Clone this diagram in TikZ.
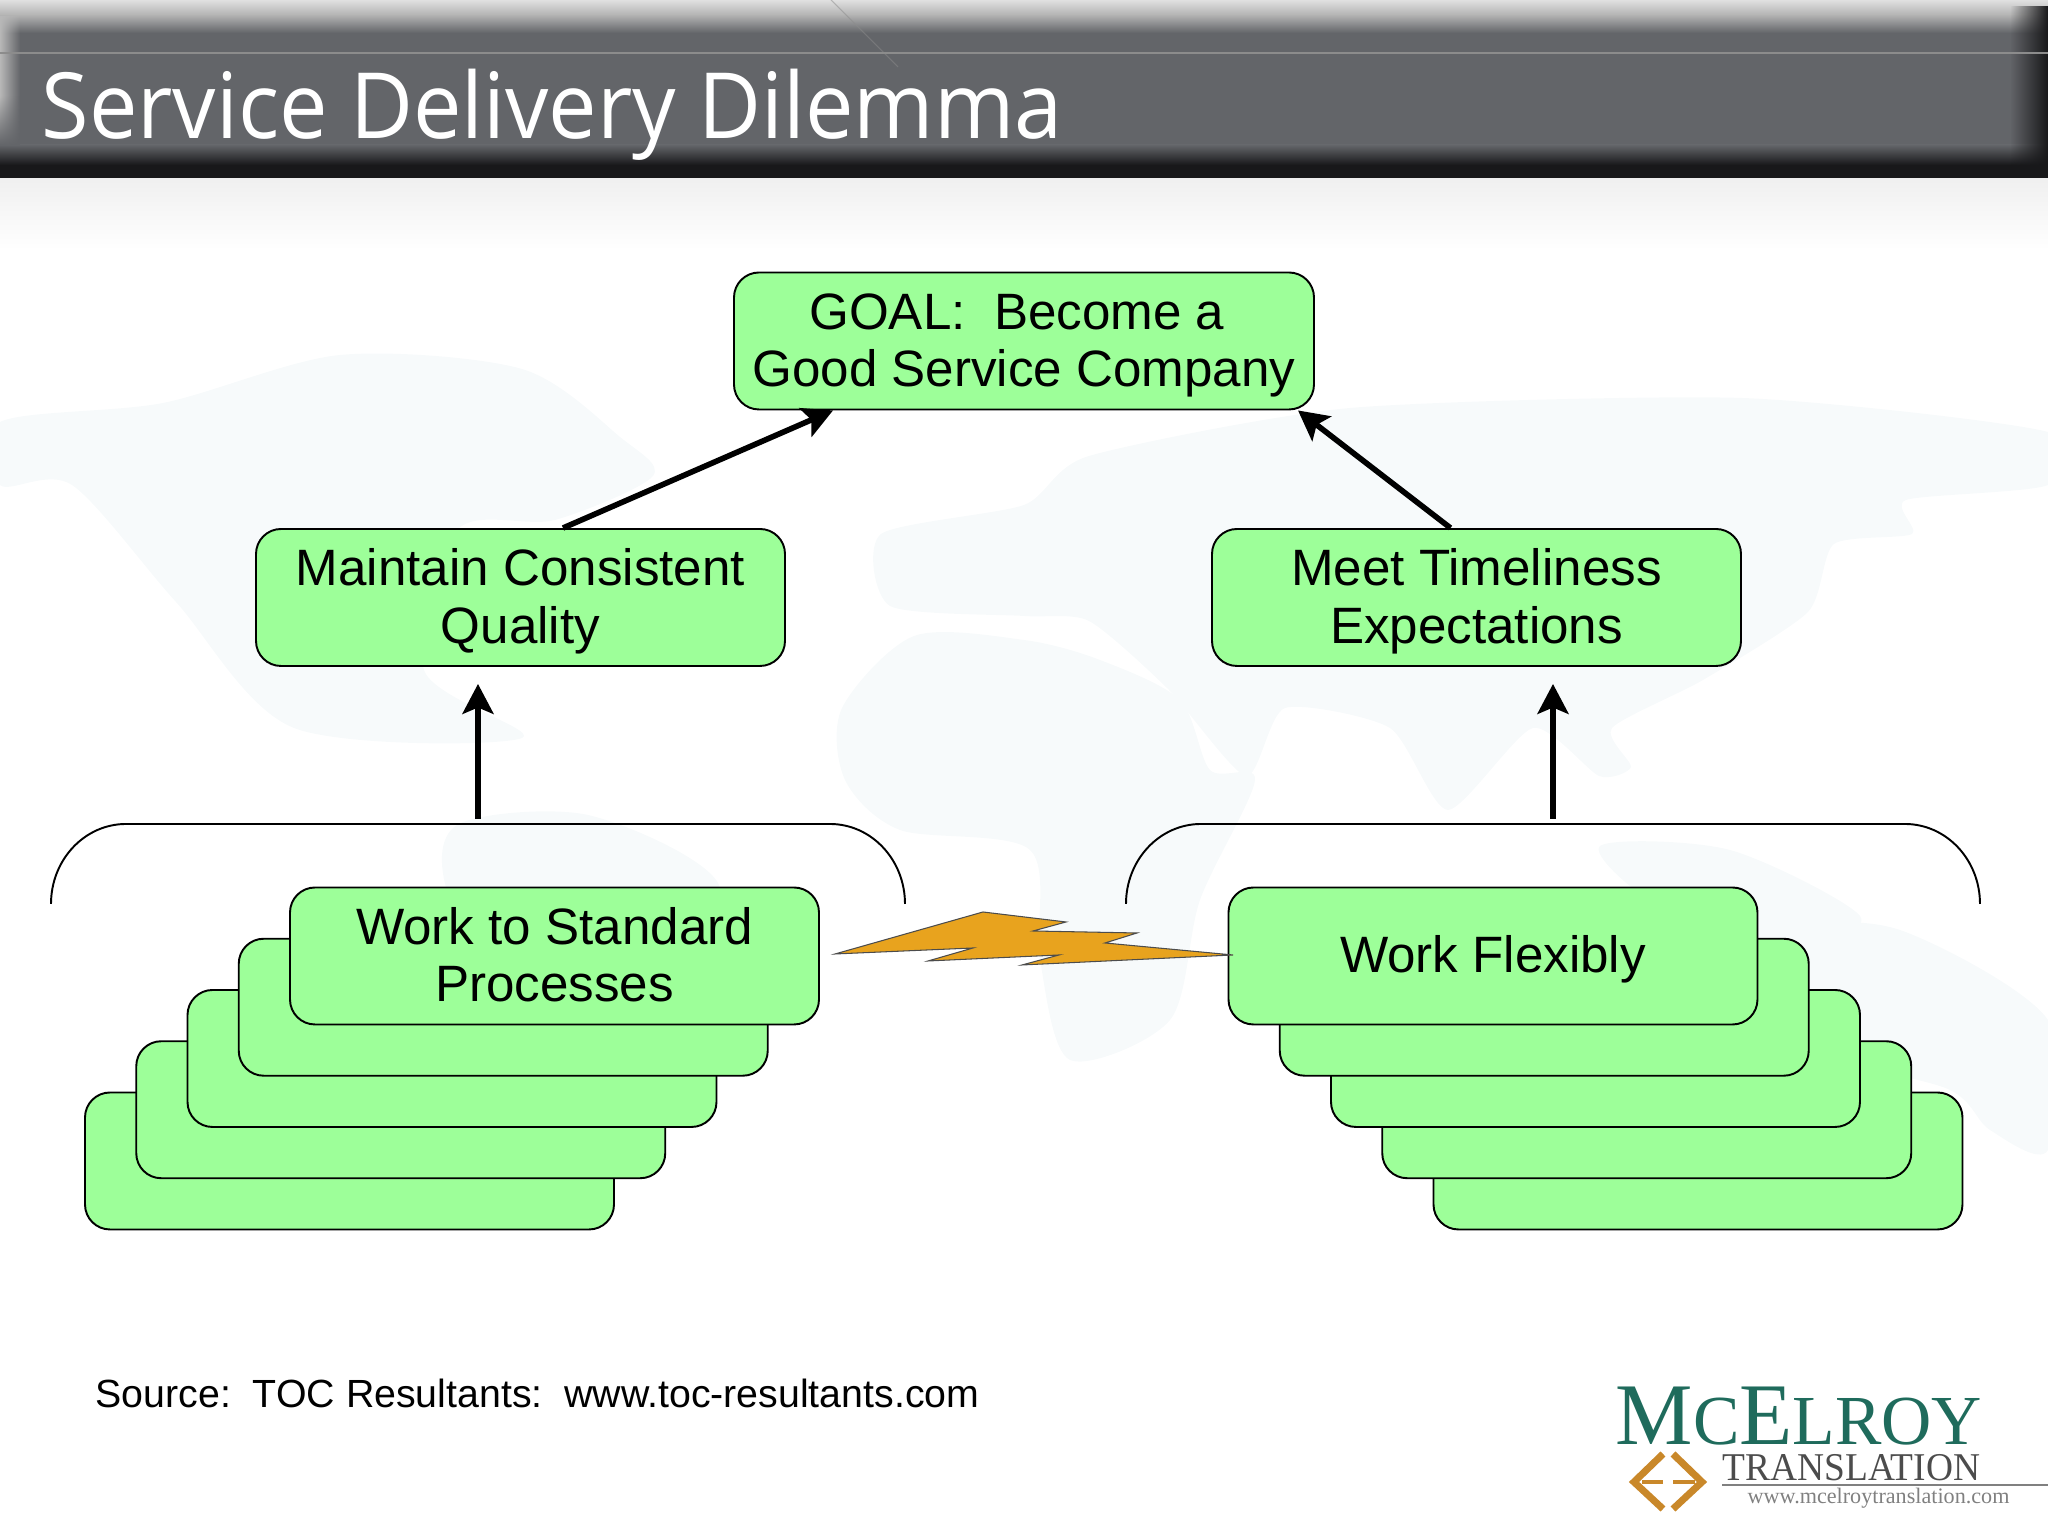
\documentclass[tikz,border=0pt]{standalone}
\usepackage{fontspec}
\setmainfont{Liberation Sans}
\newfontfamily\titlefont{Open Sans}
\newfontfamily\logofont{Liberation Serif}
\usetikzlibrary{arrows.meta,fadings}
\definecolor{boxgreen}{HTML}{9DFF99}
\definecolor{boltorange}{HTML}{E8A31E}
\definecolor{mapblue}{HTML}{F7FAFB}
\definecolor{logoteal}{HTML}{1F6B5C}
\definecolor{logogold}{HTML}{C9882A}
\definecolor{barmid}{HTML}{636569}
\definecolor{bardark}{HTML}{18181A}
\newcommand{\toprule}{\rule{0pt}{13pt}}
\newcommand{\botrule}{\rule[-3.4pt]{0pt}{3.4pt}}
\tikzset{
  box/.style={draw=black, line width=0.55pt, fill=boxgreen, rounded corners=0.25cm,
    minimum width=5.29cm, minimum height=1.37cm, align=center, inner sep=0pt,
    font=\fontsize{14.55}{16.4}\selectfont},
  landmass/.style={fill=mapblue, draw=none},
  bracket/.style={draw=black, line width=0.55pt},
  flow/.style={->, line width=1.6pt},
  band/.style={draw=none}
}
\begin{document}
\begin{tikzpicture}[>={Stealth[length=8.5pt,width=8.8pt,inset=1.8pt]}]
  \useasboundingbox (0,0) rectangle (20.48,15.36);

  % Faint world map
  \fill[landmass] plot[smooth cycle, tension=0.5] coordinates {(0,11.14) (1.63,11.33) (3.4,11.81) (5.22,11.67) (6.2,10.99) (6.53,10.6) (5.55,10.16) (4.57,10.06) (4.24,8.66) (5.22,7.98) (2.94,8.08) (1.76,9.34) (0.72,10.51) (0,10.51)};
  \fill[landmass] plot[smooth cycle, tension=0.5] coordinates {(4.57,7.11) (5.88,7.21) (7.18,6.53) (6.9,5.36) (6,3.86) (5.6,3.36) (5.4,4.86) (4.5,6.36)};
  \fill[landmass] plot[smooth cycle, tension=0.5] coordinates {(8.42,8.28) (9.14,9) (10.24,8.96) (11,8.76) (11.8,8.36) (12.1,7.66) (12.55,7.56) (12,6.36) (11.7,5.16) (10.7,4.76) (10.4,5.76) (10.3,6.86) (9,7.06) (8.45,7.56)};
  \fill[landmass] plot[smooth cycle, tension=0.4] coordinates {(8.81,10.02) (10.24,10.31) (10.89,10.8) (13.5,11.28) (17.42,11.38) (20.48,11.04) (20.48,10.51) (19.06,10.36) (19.12,10.02) (18.34,9.92) (18.08,9.24) (17.03,8.56) (16.12,8.08) (16.31,7.69) (15.99,7.6) (15.33,8.08) (14.48,7.26) (13.9,8.08) (12.85,8.28) (12.46,7.6) (11.68,8.47) (10.89,9.15) (10.24,9.2) (8.9,9.3)};
  \fill[landmass] plot[smooth cycle, tension=0.5] coordinates {(16,6.9) (17.3,6.86) (18.6,6.2) (18,5.9) (16.6,6.3)};
  \fill[landmass] plot[smooth cycle, tension=0.5] coordinates {(18,6) (19,6.06) (20.48,5.16) (20.48,3.86) (19.9,4.06) (19.5,4.46) (18.2,4.9)};

  % Title band
  \shade[band, top color=black!12, bottom color=black!30] (0,15.21) rectangle (20.48,15.36);
  \shade[band, top color=black!30, bottom color=barmid] (0,15.03) rectangle (20.48,15.21);
  \fill[barmid] (0,13.91) rectangle (20.48,15.03);
  \shade[band, top color=barmid, bottom color=bardark] (0,13.71) rectangle (20.48,13.91);
  \fill[bardark] (0,13.57) rectangle (20.48,13.71);
  \fill[black!28, path fading=east] (0,13.91) rectangle (0.2,15.2);
  \fill[barmid, path fading=north] (0,13.91) rectangle (0.2,14.4);
  \fill[bardark, path fading=west] (20.1,13.57) rectangle (20.48,15.3);
  \draw[black!45, line width=0.35pt] (0,14.83) -- (20.48,14.83);
  \draw[black!45, line width=0.3pt, opacity=0.5] (8.31,15.36) -- (8.98,14.69);
  \shade[band, top color=black!6, bottom color=white] (0,12.86) rectangle (20.48,13.57);

  \node[anchor=base west, inner sep=0pt, text=white, xscale=0.946] (title) at (0.41,13.97)
    {\titlefont\fontsize{26}{30}\selectfont Service Delivery Dilemma};

  % Boxes at the top
  \node[box, minimum width=5.8cm] (goal) at (10.24,11.95) {\toprule GOAL:\ \ Become a\ \ \\Good Service Company\botrule};
  \node[box] (quality) at (5.205,9.385) {\toprule Maintain Consistent\\Quality\botrule};
  \node[box] (timeliness) at (14.765,9.385) {\toprule Meet Timeliness\\Expectations\botrule};

  % Stacks behind the two bottom boxes
  \foreach \i in {4,3,2,1} {
    \node[box] (standard\i) at (5.545-\i*0.5125,5.80-\i*0.5125) {};
    \node[box] (flexible\i) at (14.93+\i*0.5125,5.80-\i*0.5125) {};
  }
  \node[box] (standard) at (5.545,5.80) {\toprule Work to Standard\\Processes\botrule};
  \node[box] (flexible) at (14.93,5.80) {\toprule Work Flexibly\botrule};

  % Brackets over the stacks
  \draw[bracket] (0.51,6.32) arc[start angle=180, end angle=90, x radius=0.75, y radius=0.8] -- (8.3,7.12) arc[start angle=90, end angle=0, x radius=0.75, y radius=0.8];
  \draw[bracket] (11.26,6.32) arc[start angle=180, end angle=90, x radius=0.75, y radius=0.8] -- (19.05,7.12) arc[start angle=90, end angle=0, x radius=0.75, y radius=0.8];
  \coordinate (leftfoot) at (4.78,7.17);
  \coordinate (rightfoot) at (15.53,7.17);

  % Arrows
  \draw[flow] ([xshift=0.425cm]quality.north) -- ([xshift=-1.91cm]goal.south);
  \draw[flow] ([xshift=-0.26cm]timeliness.north) -- ([xshift=2.74cm]goal.south);
  \draw[flow] (leftfoot) -- ([xshift=-0.425cm,yshift=-0.17cm]quality.south);
  \draw[flow] (rightfoot) -- ([xshift=0.765cm,yshift=-0.17cm]timeliness.south);

  % Conflict bolt
  \draw[fill=boltorange, draw=black!70, line width=0.3pt] (8.35,5.82) -- (9.83,6.24) -- (10.66,6.14) -- (10.33,6.05) -- (11.37,6.03) -- (11.05,5.93) -- (12.33,5.81) -- (10.22,5.71) -- (10.59,5.81) -- (9.28,5.75) -- (9.73,5.88) -- cycle;

  % Source line
  \node[anchor=base west, inner sep=0pt, font=\fontsize{11.18}{14}\selectfont] (source) at (0.95,1.28)
    {Source:\ \ TOC Resultants:\ \ www.toc-resultants.com};

  % Logo
  \node[anchor=base west, inner sep=0pt, text=logoteal, xscale=0.99] (logoname) at (16.15,0.91)
    {\logofont\fontsize{25}{25}\selectfont M{\fontsize{20}{20}\selectfont C}E{\fontsize{20}{20}\selectfont LROY}};
  \node[anchor=base west, inner sep=0pt, text=black!70, xscale=0.95] (logosub) at (17.22,0.55)
    {\logofont\fontsize{11.2}{12}\selectfont TRANSLATION};
  \node[anchor=base west, inner sep=0pt, text=black!50] (logourl) at (17.47,0.32)
    {\logofont\fontsize{6.3}{7}\selectfont www.mcelroytranslation.com};
  \draw[black!50, line width=0.6pt] (17.22,0.51) -- (20.48,0.51);
  \draw[logogold, line width=2pt] (16.63,0.82) -- (16.34,0.54) -- (16.63,0.27);
  \draw[logogold, line width=2pt] (16.73,0.82) -- (17.02,0.54) -- (16.73,0.27);
  \draw[logogold, line width=0.9pt] (16.42,0.54) -- (16.63,0.54);
  \draw[logogold, line width=0.9pt] (16.73,0.54) -- (16.95,0.54);
\end{tikzpicture}
\end{document}
